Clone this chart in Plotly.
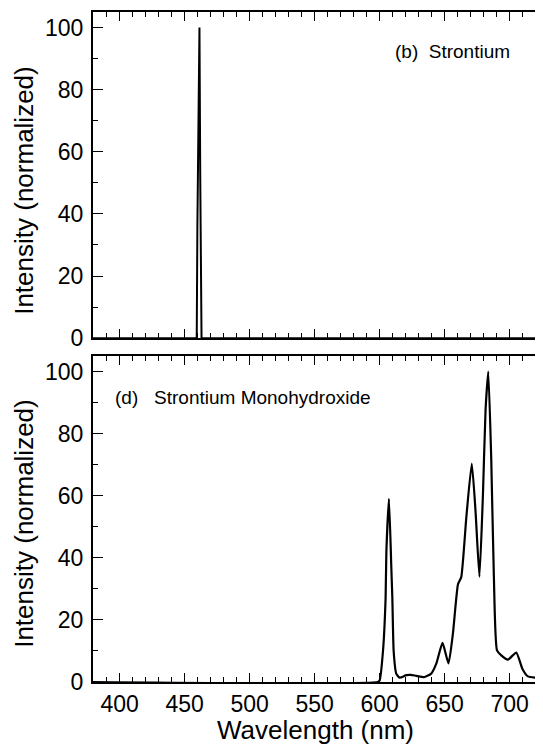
import plotly.graph_objects as go

# (b) Strontium atomic line
sr_wl = [379.5, 459.3, 459.8, 460.6, 461.4, 462.0, 462.5, 463.0, 725.7]
sr_int = [0, 0, 36, 83, 100, 52, 18, 0, 0]

# (d) Strontium monohydroxide bands
sroh_wl = [379.5, 598.5, 600.0, 602.6, 604.6, 605.2, 607.2, 609.0, 609.8, 610.8, 612.8,
           615.4, 620.5, 624.0, 628.2, 634.6, 639.7, 643.6, 648.4, 653.0, 656.4,
           660.3, 662.8, 666.7, 670.9, 673.8, 676.8, 679.5, 681.5, 683.6, 685.9,
           687.9, 690.3, 693.6, 698.7, 705.1, 709.8, 714.1, 720.5, 725.7]
sroh_int = [0, 0, 0.5, 10, 27, 42, 59, 37, 27, 10, 2.7,
            1.4, 2.2, 2.3, 2.0, 1.6, 2.7, 5.9, 12.6, 6.0, 15.6,
            31.5, 33.8, 53, 70.4, 55, 33.9, 60.5, 87.6, 100, 71.5,
            33.9, 10.2, 8.6, 7.2, 9.5, 4.3, 1.8, 1.4, 1.3]

x_range = [379.5, 725.7]
y_range = [0, 105]
font = "Liberation Sans, Arial, sans-serif"

fig = go.Figure()
fig.add_trace(go.Scatter(x=sr_wl, y=sr_int, xaxis="x", yaxis="y", mode="lines",
                         line=dict(color="black", width=2)))
fig.add_trace(go.Scatter(x=sroh_wl, y=sroh_int, xaxis="x2", yaxis="y2", mode="lines",
                         line=dict(color="black", width=2.2, shape="spline", smoothing=0.5)))
# empty traces so the right-hand tick axes get drawn
fig.add_trace(go.Scatter(x=[], y=[], xaxis="x", yaxis="y3"))
fig.add_trace(go.Scatter(x=[], y=[], xaxis="x2", yaxis="y4"))

xcommon = dict(range=x_range, tick0=400, dtick=50, ticks="inside", ticklen=9, tickwidth=1.3,
               tickcolor="black", showline=True, linecolor="black", linewidth=2,
               mirror="ticks", showgrid=False, zeroline=False,
               minor=dict(ticks="inside", ticklen=5, tickwidth=1, dtick=10, tickcolor="black"),
               tickfont=dict(size=23, color="black", family=font))
ycommon = dict(range=y_range, tick0=0, dtick=20, ticks="inside", ticklen=10, tickwidth=1.3,
               tickcolor="black", showline=True, linecolor="black", linewidth=2,
               showgrid=False, zeroline=False,
               minor=dict(ticks="inside", ticklen=5, tickwidth=1, dtick=10, tickcolor="black"),
               tickfont=dict(size=23, color="black", family=font), ticklabelstandoff=3)
yright = dict(range=y_range, tick0=0, dtick=20, ticks="inside", ticklen=6, tickwidth=1.3,
              tickcolor="black", showline=False, showticklabels=False, showgrid=False,
              zeroline=False, side="right")

fig.update_layout(
    width=535, height=743,
    margin=dict(l=85, r=0, t=4, b=69),
    paper_bgcolor="white", plot_bgcolor="white",
    showlegend=False,
    font=dict(family=font, color="black"),
    xaxis=dict(xcommon, anchor="y", domain=[0, 1], showticklabels=False),
    xaxis2=dict(xcommon, anchor="y2", domain=[0, 1], matches="x", ticklabelstandoff=0),
    yaxis=dict(ycommon, anchor="x", domain=[0.5132, 1]),
    yaxis2=dict(ycommon, anchor="x2", domain=[0, 0.4863]),
    yaxis3=dict(yright, anchor="x", overlaying="y"),
    yaxis4=dict(yright, anchor="x2", overlaying="y2"),
    annotations=[
        dict(text="(b)\u00a0\u00a0Strontium", x=610, y=92.3, xref="x", yref="y",
             xanchor="left", yanchor="middle", showarrow=False, font=dict(size=19)),
        dict(text="(d)\u00a0\u00a0\u00a0Strontium Monohydroxide", x=394.6, y=91.8, xref="x2", yref="y2",
             xanchor="left", yanchor="middle", showarrow=False, font=dict(size=19)),
        dict(text="Intensity (normalized)", x=-0.152, y=0.734, xref="paper", yref="paper",
             xanchor="center", yanchor="middle",
             textangle=-90, showarrow=False, font=dict(size=26)),
        dict(text="Intensity (normalized)", x=-0.152, y=0.237, xref="paper", yref="paper",
             xanchor="center", yanchor="middle",
             textangle=-90, showarrow=False, font=dict(size=26)),
        dict(text="Wavelength (nm)", x=0.495, y=-0.071, xref="paper", yref="paper",
             xanchor="center", yanchor="middle", showarrow=False, font=dict(size=26)),
    ],
)

fig.write_html("out.html")
